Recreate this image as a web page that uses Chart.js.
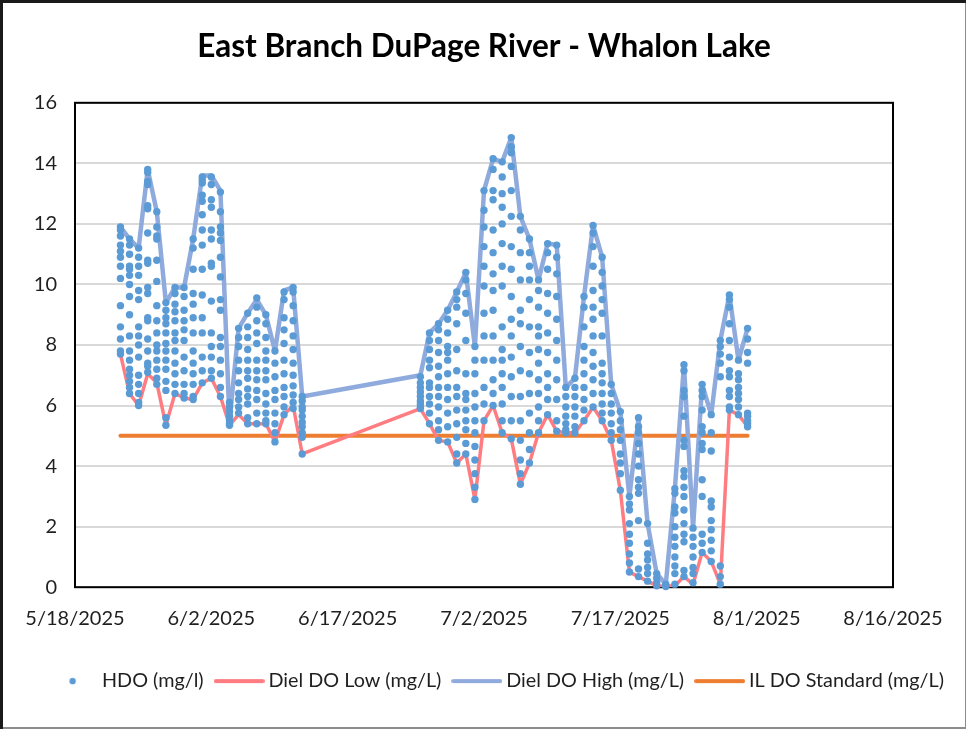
<!DOCTYPE html>
<html>
<head>
<meta charset="utf-8">
<title>East Branch DuPage River - Whalon Lake</title>
<script src="https://cdn.jsdelivr.net/npm/chart.js@4.4.1/dist/chart.umd.min.js"></script>
<style>
    html, body { margin: 0; padding: 0; background: #fff; }
    canvas { display: block; }
</style>
</head>
<body>
<canvas id="whalon-chart" width="966" height="729"></canvas>
<script>
// Chart data (x values are Excel date serials, 45795 = 5/18/2025)
// ------------------------------
var xMin = 45795;
var xMax = 45885;
var xTickLabels = ['5/18/2025', '6/2/2025', '6/17/2025', '7/2/2025', '7/17/2025', '8/1/2025', '8/16/2025'];

var lineDates = [
    45800, 45801, 45802, 45803, 45804, 45805, 45806, 45807, 45808, 45809, 45810,
    45811, 45812, 45813, 45814, 45815, 45816, 45817, 45818, 45819, 45820,
    45833, 45834, 45835, 45836, 45837, 45838, 45839, 45840, 45841, 45842, 45843,
    45844, 45845, 45846, 45847, 45848, 45849, 45850, 45851, 45852, 45853, 45854,
    45855, 45856, 45857, 45858, 45859, 45860, 45861, 45862, 45863, 45864, 45865,
    45866, 45867, 45868, 45869
];

var dielLow = [
    7.7, 6.4, 6.0, 7.05, 6.75, 5.35, 6.4, 6.25, 6.2, 6.75, 6.9,
    6.3, 5.35, 5.7, 5.4, 5.4, 5.4, 4.8, 5.7, 6.0, 4.4,
    5.9, 5.4, 4.85, 4.8, 4.1, 4.4, 2.9, 5.5, 6.0, 5.1, 4.9,
    3.4, 4.1, 5.1, 5.7, 5.15, 5.1, 5.1, 5.5, 5.95, 5.5, 4.85,
    3.2, 0.5, 0.35, 0.2, 0.05, 0.03, 0.05, 0.35, 0.1, 1.15, 0.85,
    0.1, 5.85, 5.7, 5.3
];

var dielHigh = [
    11.9, 11.5, 11.2, 13.8, 12.4, 9.4, 9.9, 9.9, 11.5, 13.6, 13.6,
    13.1, 5.5, 8.55, 9.05, 9.5, 9.0, 7.8, 9.8, 9.9, 6.3,
    7.0, 8.4, 8.7, 9.15, 9.75, 10.4, 7.95, 13.1, 14.15, 14.05, 14.85,
    12.25, 11.5, 10.15, 11.35, 11.3, 6.6, 6.9, 9.6, 11.95, 10.9, 6.7,
    5.8, 3.0, 5.6, 2.1, 0.45, 0.1, 3.25, 7.35, 1.95, 6.7, 5.7,
    8.15, 9.65, 7.5, 8.55
];

var standardDates = [45800, 45869];
var standardValues = [5, 5];

// HDO readings, one list per day in lineDates
var hdoReadings = [
    [11.9, 11.8, 11.6, 11.3, 11.1, 10.9, 10.6, 10.2, 9.3, 8.6, 8.2, 7.8, 7.7],
    [11.5, 11.3, 11.0, 10.6, 10.5, 10.3, 10.0, 9.6, 9.0, 8.3, 7.8, 7.5, 7.2, 7.0, 6.8, 6.6, 6.4],
    [11.2, 10.9, 10.6, 10.3, 9.8, 9.5, 8.6, 8.3, 8.0, 7.6, 7.0, 6.7, 6.4, 6.1, 6.0],
    [13.8, 13.7, 13.4, 13.3, 12.6, 12.5, 11.7, 10.8, 10.7, 9.9, 9.7, 8.9, 8.8, 8.2, 7.8, 7.4, 7.3, 7.1],
    [12.4, 11.9, 11.6, 11.5, 10.8, 10.1, 9.3, 8.8, 8.4, 8.0, 7.8, 7.5, 7.2, 6.9, 6.7],
    [9.4, 9.15, 8.9, 8.7, 8.4, 8.05, 7.8, 7.5, 7.2, 6.8, 6.5, 5.6, 5.35],
    [9.9, 9.7, 9.35, 9.1, 8.8, 8.4, 8.15, 7.8, 7.4, 7.05, 6.7, 6.4],
    [9.9, 9.6, 9.15, 8.8, 8.5, 8.15, 7.6, 7.15, 6.7, 6.4, 6.25],
    [11.5, 11.2, 10.5, 9.7, 9.35, 8.9, 8.4, 7.8, 7.4, 7.05, 6.7, 6.3, 6.2],
    [13.55, 13.45, 13.35, 12.95, 12.75, 12.3, 11.8, 11.3, 10.5, 9.65, 8.9, 8.4, 7.6, 7.15, 6.75],
    [13.55, 13.3, 12.8, 12.55, 11.8, 11.5, 10.7, 10.6, 9.45, 8.4, 7.95, 7.6, 7.15, 6.9],
    [13.05, 12.4, 11.9, 11.7, 11.45, 10.9, 10.25, 9.5, 9.15, 8.25, 7.95, 7.5, 7.05, 6.6, 6.3],
    [6.1, 5.95, 5.8, 5.65, 5.5, 5.4, 5.35],
    [8.55, 8.25, 7.95, 7.5, 7.15, 6.75, 6.4, 6.2, 5.95, 5.75],
    [9.05, 8.6, 8.25, 7.85, 7.5, 7.15, 6.9, 6.55, 6.3, 6.05, 5.6, 5.4],
    [9.55, 9.25, 8.8, 8.4, 8.05, 7.5, 7.15, 6.85, 6.5, 6.2, 5.75, 5.4],
    [9.0, 8.7, 8.25, 7.8, 7.5, 7.15, 6.85, 6.4, 6.05, 5.75, 5.5, 5.4],
    [7.8, 7.4, 6.95, 6.5, 6.2, 5.75, 5.4, 5.1, 4.8],
    [9.75, 9.5, 8.9, 8.5, 8.05, 7.5, 7.05, 6.6, 6.3, 5.95, 5.7],
    [9.9, 9.75, 9.3, 8.8, 8.3, 7.85, 7.4, 7.0, 6.65, 6.35, 6.1, 5.9],
    [6.3, 6.15, 5.95, 5.85, 5.65, 5.45, 5.3, 5.1, 4.95, 4.4],
    [6.95, 6.75, 6.6, 6.45, 6.3, 6.15, 6.05, 5.95, 5.9],
    [8.4, 8.15, 7.85, 7.5, 7.25, 6.75, 6.6, 6.3, 6.05, 5.75, 5.4],
    [8.7, 8.5, 8.15, 7.75, 7.3, 6.95, 6.6, 6.3, 5.95, 5.5, 5.2, 4.85],
    [9.15, 8.85, 8.4, 7.95, 7.75, 7.5, 7.05, 6.6, 6.2, 5.75, 5.3, 4.8],
    [9.75, 9.5, 9.25, 8.7, 7.85, 7.15, 6.6, 6.3, 5.85, 5.4, 4.95, 4.4, 4.1],
    [10.4, 10.15, 9.7, 9.05, 8.15, 7.05, 6.4, 6.2, 5.85, 5.5, 5.2, 4.75, 4.4],
    [7.95, 7.5, 7.05, 6.4, 5.95, 5.5, 5.1, 4.65, 4.2, 3.75, 3.3, 2.9],
    [13.1, 12.45, 11.9, 11.25, 10.6, 9.95, 9.05, 8.3, 7.5, 6.6, 6.05, 5.5],
    [14.15, 13.8, 13.1, 12.8, 11.8, 11.05, 10.35, 9.8, 9.15, 8.3, 7.5, 6.85, 6.4, 6.0],
    [14.05, 13.55, 13.0, 12.55, 12.0, 11.35, 10.6, 9.95, 8.6, 7.85, 7.5, 7.05, 6.6, 6.05, 5.5, 5.1],
    [14.85, 14.55, 14.35, 13.9, 13.1, 12.25, 11.25, 10.5, 9.6, 8.85, 8.3, 7.6, 6.95, 6.3, 5.5, 4.9],
    [12.25, 11.8, 11.05, 10.15, 9.15, 8.7, 7.95, 7.15, 6.3, 5.5, 4.85, 4.2, 3.75, 3.4],
    [11.5, 11.05, 10.6, 10.15, 9.5, 8.6, 7.75, 7.05, 6.4, 5.75, 5.1, 4.55, 4.1],
    [10.15, 9.8, 9.25, 8.6, 8.3, 7.85, 7.4, 6.85, 6.4, 5.95, 5.5, 5.1],
    [11.35, 11.05, 10.5, 9.7, 9.05, 8.4, 7.75, 7.05, 6.6, 6.2, 5.7],
    [11.3, 10.9, 10.35, 9.6, 8.85, 8.15, 7.5, 6.85, 6.2, 5.5, 5.15],
    [6.6, 6.3, 5.95, 5.65, 5.4, 5.2, 5.1],
    [6.9, 6.6, 6.3, 5.95, 5.65, 5.3, 5.1],
    [9.6, 9.25, 8.6, 7.95, 7.5, 7.05, 6.6, 6.2, 5.85, 5.5],
    [11.95, 11.7, 11.25, 10.6, 9.8, 9.25, 8.85, 8.3, 7.75, 7.3, 6.85, 6.4, 5.95],
    [10.9, 10.4, 9.95, 9.5, 9.05, 8.3, 7.4, 7.05, 6.75, 6.4, 6.05, 5.75, 5.5],
    [6.7, 6.4, 6.05, 5.75, 5.4, 5.1, 4.85],
    [5.8, 5.5, 5.2, 4.85, 4.4, 4.1, 3.75, 3.2],
    [3.0, 2.75, 2.55, 2.1, 1.75, 1.45, 1.1, 0.8, 0.5],
    [5.6, 5.3, 5.1, 4.75, 4.4, 4.0, 3.55, 3.3, 3.1, 2.2, 0.6, 0.35],
    [2.1, 1.45, 1.1, 0.9, 0.65, 0.45, 0.2],
    [0.45, 0.3, 0.15, 0.05],
    [0.1, 0.05, 0.02],
    [3.25, 3.1, 2.65, 2.45, 2.0, 1.65, 1.35, 1.0, 0.7, 0.45, 0.1],
    [7.35, 7.15, 6.5, 6.3, 5.65, 4.85, 4.65, 3.85, 3.65, 3.3, 3.0, 2.55, 2.1, 1.75, 1.5, 0.55, 0.35],
    [1.95, 1.65, 1.35, 1.0, 0.65, 0.45, 0.15],
    [6.7, 6.5, 6.3, 5.85, 5.3, 5.1, 4.75, 4.55, 3.55, 3.0, 1.75, 1.45, 1.15],
    [5.7, 5.1, 4.5, 2.85, 2.65, 2.2, 1.9, 1.55, 1.2, 0.85],
    [8.15, 7.95, 7.7, 7.4, 6.95, 0.7, 0.35, 0.1],
    [9.65, 9.5, 9.25, 8.7, 8.15, 7.6, 7.15, 6.95, 6.5, 6.3, 5.95, 5.85],
    [7.5, 7.05, 6.85, 6.6, 6.4, 6.2, 5.95, 5.7],
    [8.55, 8.2, 7.75, 7.4, 5.75, 5.65, 5.5, 5.4, 5.3]
];

// Colours
var hdoColor = '#5B9BD5';
var lowColor = '#FF7C80';
var highColor = '#8FAADC';
var standardColor = '#ED7D31';
var textColor = '#1f1f1f';

Chart.defaults.font.family = "Lato, 'Open Sans', sans-serif";
Chart.defaults.color = textColor;

// build point lists from the arrays above
var hdoPoints = [];
lineDates.forEach(function(d, i) {
    hdoReadings[i].forEach(function(v) { hdoPoints.push({ x: d, y: v }); });
});
var lowPoints = lineDates.map(function(d, i) { return { x: d, y: dielLow[i] }; });
var highPoints = lineDates.map(function(d, i) { return { x: d, y: dielHigh[i] }; });
var standardPoints = standardDates.map(function(d, i) { return { x: d, y: standardValues[i] }; });

// legend markers (dot or short line, 51px wide like the Excel legend)
function legendIcon(color, dot) {
    var c = document.createElement('canvas');
    c.width = 51;
    c.height = 8;
    var g = c.getContext('2d');
    if (dot) {
        g.fillStyle = color;
        g.beginPath();
        g.arc(25.5, 4, 3.2, 0, Math.PI * 2);
        g.fill();
    } else {
        g.strokeStyle = color;
        g.lineWidth = 4;
        g.lineCap = 'round';
        g.beginPath();
        g.moveTo(2, 4);
        g.lineTo(49, 4);
        g.stroke();
    }
    return c;
}
var legendIcons = [
    legendIcon(hdoColor, true),
    legendIcon(lowColor, false),
    legendIcon(highColor, false),
    legendIcon(standardColor, false)
];

// white background, plot-area box and outer frame
var chartFrame = {
    id: 'chartFrame',
    beforeDraw: function(chart) {
        var c = chart.ctx;
        c.save();
        c.fillStyle = '#fff';
        c.fillRect(0, 0, chart.width, chart.height);
        c.restore();
    },
    beforeDatasetsDraw: function(chart) {
        var a = chart.chartArea, c = chart.ctx;
        c.save();
        c.strokeStyle = '#000';
        c.lineWidth = 2;
        c.strokeRect(a.left, a.top, a.right - a.left, a.bottom - a.top);
        c.restore();
    },
    afterDraw: function(chart) {
        var c = chart.ctx;
        c.save();
        c.fillStyle = '#8c8c8c';
        c.fillRect(chart.width - 1, 0, 1, chart.height);
        c.fillRect(0, chart.height - 2, chart.width, 2);
        c.fillStyle = '#1a1a1a';
        c.fillRect(0, 0, 3, chart.height);
        c.fillRect(0, 0, chart.width, 3);
        c.restore();
    }
};

var chartData = {
    datasets: [{
        label: 'HDO (mg/l)',
        data: hdoPoints,
        backgroundColor: hdoColor,
        borderWidth: 0,
        pointRadius: 3.7,
        pointHoverRadius: 3.7,
        clip: false
    }, {
        type: 'line',
        label: 'Diel DO Low (mg/L)',
        data: lowPoints,
        borderColor: lowColor,
        backgroundColor: lowColor,
        borderWidth: 3.5,
        borderJoinStyle: 'round',
        pointRadius: 0,
        fill: false,
        tension: 0
    }, {
        type: 'line',
        label: 'Diel DO High (mg/L)',
        data: highPoints,
        borderColor: highColor,
        backgroundColor: highColor,
        borderWidth: 4.5,
        borderJoinStyle: 'round',
        pointRadius: 0,
        fill: false,
        tension: 0
    }, {
        type: 'line',
        label: 'IL DO Standard (mg/L)',
        data: standardPoints,
        borderColor: standardColor,
        backgroundColor: standardColor,
        borderWidth: 4,
        borderCapStyle: 'round',
        pointRadius: 0,
        fill: false
    }]
};

var chartOptions = {
    responsive: false,
    animation: false,
    events: [],
    layout: { padding: { left: 31, right: 0, top: 0, bottom: 28 } },
    scales: {
        x: {
            type: 'linear',
            min: xMin,
            max: xMax,
            grid: { display: false, drawTicks: false },
            border: { display: false },
            ticks: {
                stepSize: 15,
                autoSkip: false,
                maxRotation: 0,
                padding: 19,
                color: textColor,
                font: { size: 20 },
                callback: function(value, index) { return xTickLabels[index]; }
            },
            afterFit: function(scale) { scale.height = 68; }
        },
        y: {
            min: 0,
            max: 16,
            grid: { color: '#d9d9d9', lineWidth: 2, drawTicks: false },
            border: { display: false },
            ticks: { stepSize: 2, padding: 18, color: textColor, font: { size: 20 } },
            afterFit: function(scale) { scale.width = 44; }
        },
        // empty right-hand gutter, keeps the legend centred on the whole picture
        yGutter: {
            position: 'right',
            grid: { display: false, drawTicks: false },
            border: { display: false },
            ticks: { display: false },
            afterFit: function(scale) { scale.width = 73; }
        }
    },
    plugins: {
        title: {
            display: true,
            text: 'East Branch DuPage River - Whalon Lake',
            fullSize: false,
            color: '#000',
            font: { size: 31.5, weight: 'bold' },
            padding: { top: 28, bottom: 37 }
        },
        legend: {
            position: 'bottom',
            labels: {
                usePointStyle: true,
                pointStyleWidth: 39,
                padding: 16,
                color: textColor,
                font: { size: 19.8 },
                generateLabels: function(chart) {
                    var items = Chart.defaults.plugins.legend.labels.generateLabels(chart);
                    items.forEach(function(item) { item.pointStyle = legendIcons[item.datasetIndex]; });
                    return items;
                }
            }
        },
        tooltip: { enabled: false }
    }
};

var config = {
    type: 'scatter',
    data: chartData,
    options: chartOptions,
    plugins: [chartFrame]
};

// Create the chart
var whalonChart = new Chart(document.getElementById('whalon-chart'), config);
</script>
</body>
</html>
